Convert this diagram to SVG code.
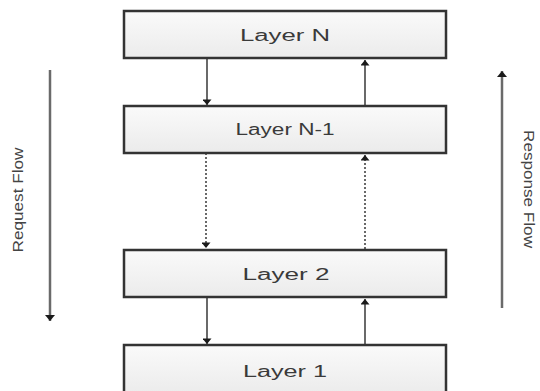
<svg xmlns="http://www.w3.org/2000/svg" width="540" height="391" viewBox="0 0 540 391">
<style>
.box{fill:url(#g);stroke:#333;stroke-width:2.5}
.lbl{font-family:"Liberation Sans",Arial,sans-serif;font-size:16px;fill:#3a3a3a;text-anchor:middle}
.side{font-family:"Liberation Sans",Arial,sans-serif;font-size:14px;fill:#444;text-anchor:middle}
.c{stroke:#444;stroke-width:1.6;fill:none}
.d{stroke:#444;stroke-width:1.6;fill:none;stroke-dasharray:2 2}
.flow{stroke:#6a6a6a;stroke-width:2.5;fill:none}
</style>
<defs>
<linearGradient id="g" x1="0" y1="0" x2="0" y2="1">
<stop offset="0" stop-color="#fafafa"/>
<stop offset="1" stop-color="#ebebeb"/>
</linearGradient>
<marker id="a" viewBox="0 0 6 10" refX="6" refY="5" markerWidth="6" markerHeight="9" orient="auto" markerUnits="userSpaceOnUse">
<path d="M0,0 L6,5 L0,10 z" fill="#1a1a1a"/>
</marker>
<marker id="b" viewBox="0 0 6 10" refX="6" refY="5" markerWidth="7" markerHeight="10" orient="auto" markerUnits="userSpaceOnUse">
<path d="M0,0 L6,5 L0,10 z" fill="#1a1a1a"/>
</marker>
</defs>
<g id="connectors">
<line class="c" x1="207" y1="59" x2="207" y2="105" marker-end="url(#a)"/>
<line class="c" x1="365" y1="106" x2="365" y2="60" marker-end="url(#a)"/>
<line class="d" x1="206" y1="153" x2="206" y2="248" marker-end="url(#a)"/>
<line class="d" x1="365" y1="249" x2="365" y2="155" marker-end="url(#a)"/>
<line class="c" x1="207" y1="298" x2="207" y2="344" marker-end="url(#a)"/>
<line class="c" x1="365" y1="345" x2="365" y2="299" marker-end="url(#a)"/>
<line class="flow" x1="50" y1="70" x2="50" y2="321" marker-end="url(#b)"/>
<line class="flow" x1="502" y1="308" x2="502" y2="71" marker-end="url(#b)"/>
</g>
<g id="layerN">
<rect class="box" x="124" y="11" width="322" height="47"/>
<text class="lbl" x="285" y="41" textLength="90" lengthAdjust="spacingAndGlyphs">Layer N</text>
</g>
<g id="layerN1">
<rect class="box" x="124" y="106" width="322" height="47"/>
<text class="lbl" x="285" y="135" textLength="99" lengthAdjust="spacingAndGlyphs">Layer N-1</text>
</g>
<g id="layer2">
<rect class="box" x="124" y="250" width="322" height="47"/>
<text class="lbl" x="286" y="280" textLength="87" lengthAdjust="spacingAndGlyphs">Layer 2</text>
</g>
<g id="layer1">
<rect class="box" x="124" y="345" width="322" height="50"/>
<text class="lbl" x="285" y="377" textLength="84" lengthAdjust="spacingAndGlyphs">Layer 1</text>
</g>
<g id="request-flow">
<text class="side" transform="translate(23,200) rotate(-90)" textLength="105" lengthAdjust="spacingAndGlyphs">Request Flow</text>
</g>
<g id="response-flow">
<text class="side" transform="translate(524,189) rotate(90)" textLength="118" lengthAdjust="spacingAndGlyphs">Response Flow</text>
</g>
</svg>
